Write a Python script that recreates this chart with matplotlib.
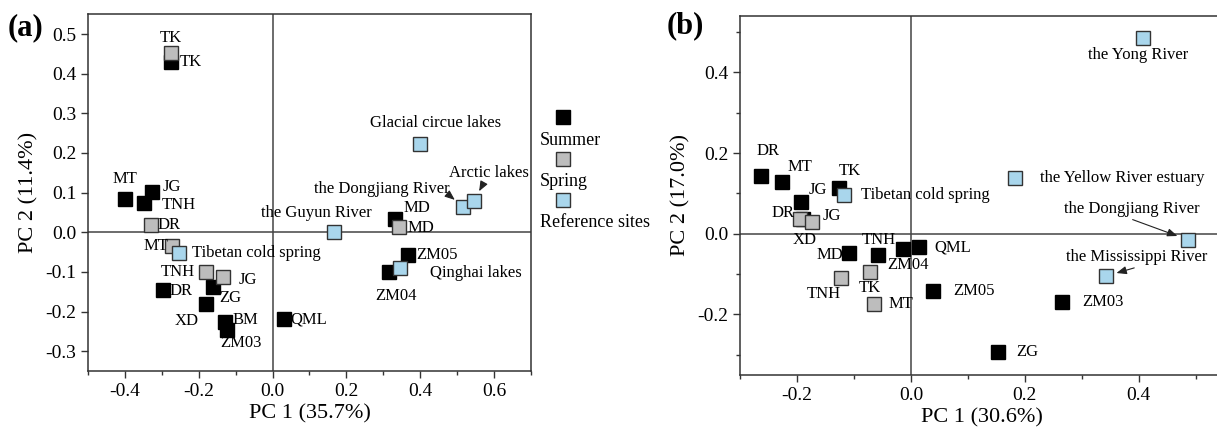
import numpy as np
import matplotlib
matplotlib.use("Agg")
import matplotlib.pyplot as plt
from matplotlib.ticker import MultipleLocator

plt.rcParams["font.family"] = ["Liberation Serif", "DejaVu Serif"]

# ---------------- panel (a) data ----------------
a_summer_sites = ["TK", "MT", "JG", "TNH", "DR", "ZG", "XD", "BM", "ZM03", "QML", "MD", "ZM05", "ZM04"]
a_summer_pc1 = [-0.274, -0.401, -0.326, -0.349, -0.297, -0.161, -0.180, -0.129, -0.124, 0.030, 0.332, 0.367, 0.316]
a_summer_pc2 = [0.430, 0.084, 0.101, 0.073, -0.145, -0.137, -0.181, -0.227, -0.246, -0.219, 0.033, -0.057, -0.101]

a_spring_sites = ["TK", "DR", "MT", "TNH", "JG", "MD"]
a_spring_pc1 = [-0.276, -0.330, -0.272, -0.179, -0.133, 0.343]
a_spring_pc2 = [0.451, 0.018, -0.034, -0.101, -0.112, 0.014]

a_ref_sites = ["Tibetan cold spring", "the Guyun River", "Glacial circue lakes",
               "the Dongjiang River", "Arctic lakes", "Qinghai lakes"]
a_ref_pc1 = [-0.254, 0.166, 0.399, 0.517, 0.545, 0.345]
a_ref_pc2 = [-0.053, 0.001, 0.222, 0.064, 0.079, -0.089]

# ---------------- panel (b) data ----------------
b_summer_sites = ["DR", "MT", "JG", "TK", "XD", "MD", "TNH", "ZM04", "QML", "ZM05", "ZM03", "ZG"]
b_summer_pc1 = [-0.263, -0.226, -0.192, -0.126, -0.189, -0.108, -0.057, -0.014, 0.014, 0.039, 0.265, 0.152]
b_summer_pc2 = [0.143, 0.128, 0.079, 0.113, 0.037, -0.048, -0.052, -0.037, -0.033, -0.141, -0.170, -0.292]

b_spring_sites = ["DR", "JG", "TK", "TNH", "MT"]
b_spring_pc1 = [-0.194, -0.174, -0.072, -0.122, -0.064]
b_spring_pc2 = [0.036, 0.029, -0.094, -0.110, -0.174]

b_ref_sites = ["Tibetan cold spring", "the Yong River", "the Yellow River estuary",
               "the Dongjiang River", "the Mississippi River"]
b_ref_pc1 = [-0.117, 0.408, 0.183, 0.486, 0.342]
b_ref_pc2 = [0.095, 0.485, 0.137, -0.015, -0.105]

# label placement (offset in pixels from the marker, ha)
a_labels = {
    ("summer", "TK"): (8, 0, "left"), ("summer", "MT"): (0, 20, "center"),
    ("summer", "JG"): (10, 5, "left"), ("summer", "TNH"): (18, -2, "left"),
    ("summer", "DR"): (7, -1, "left"), ("summer", "ZG"): (6, -11, "left"),
    ("summer", "XD"): (-7, -17, "right"), ("summer", "BM"): (8, 2, "left"),
    ("summer", "ZM03"): (14, -13, "center"), ("summer", "QML"): (7, 0, "left"),
    ("summer", "MD"): (8, 11, "left"), ("summer", "ZM05"): (8, 0, "left"),
    ("summer", "ZM04"): (7, -24, "center"),
    ("spring", "TK"): (0, 15, "center"), ("spring", "DR"): (7, 0, "left"),
    ("spring", "MT"): (-4, 0, "right"), ("spring", "TNH"): (-12, 0, "right"),
    ("spring", "JG"): (15, -3, "left"), ("spring", "MD"): (8, -1, "left"),
    ("ref", "Tibetan cold spring"): (13, 0, "left"), ("ref", "the Guyun River"): (-17, 19, "center"),
    ("ref", "Glacial circue lakes"): (16, 21, "center"), ("ref", "Qinghai lakes"): (30, -5, "left"),
}
a_arrows = {"the Dongjiang River": (-82, 18, (1.0, 0.1)), "Arctic lakes": (15, 28, (0.45, 0.0))}

b_labels = {
    ("summer", "DR"): (7, 25, "center"), ("summer", "MT"): (18, 15, "center"),
    ("summer", "JG"): (7, 12, "left"), ("summer", "TK"): (11, 17, "center"),
    ("summer", "XD"): (1, -21, "center"), ("summer", "MD"): (-6, -2, "right"),
    ("summer", "TNH"): (0, 15, "center"), ("summer", "ZM04"): (-16, -16, "left"),
    ("summer", "QML"): (16, 0, "left"), ("summer", "ZM05"): (20, 0, "left"),
    ("summer", "ZM03"): (20, 0, "left"), ("summer", "ZG"): (19, 0, "left"),
    ("spring", "DR"): (-6, 6, "right"), ("spring", "JG"): (11, 6, "left"),
    ("spring", "TK"): (0, -16, "center"), ("spring", "TNH"): (-18, -16, "center"),
    ("spring", "MT"): (14, 0, "left"),
    ("ref", "Tibetan cold spring"): (17, 0, "left"), ("ref", "the Yong River"): (-5, -17, "center"),
    ("ref", "the Yellow River estuary"): (25, 0, "left"),
}
b_arrows = {"the Dongjiang River": (-56, 31, (0.45, 0.0)), "the Mississippi River": (31, 19, (0.55, 0.0))}

FS = 12
groups = [("summer", "black", "black"), ("spring", "#bdbdbd", "#333333"), ("ref", "#a9d6ec", "#333333")]


def draw_panel(ax, data, labels, arrows):
    for g, face, edge in groups:
        names, xs, ys = data[g]
        ax.plot(xs, ys, "s", ms=9.5, mfc=face, mec=edge, mew=1.0, ls="none", zorder=3)
        for n, x, y in zip(names, xs, ys):
            if g == "ref" and n in arrows:
                dx, dy, rp = arrows[n]
                ax.annotate(n, (x, y), xytext=(dx, dy), textcoords="offset pixels",
                            ha="center", va="center", fontsize=FS, zorder=4,
                            arrowprops=dict(arrowstyle="-|>,head_length=0.5,head_width=0.2",
                                            color="#222222", lw=0.8, shrinkA=0, shrinkB=8,
                                            relpos=rp))
                continue
            dx, dy, ha = labels[(g, n)]
            ax.annotate(n, (x, y), xytext=(dx, dy), textcoords="offset pixels",
                        ha=ha, va="center", fontsize=FS, zorder=4)
    ax.axhline(0, color="#444444", lw=1.1, zorder=1)
    ax.axvline(0, color="#444444", lw=1.1, zorder=1)
    for s in ax.spines.values():
        s.set_color("#333333")
        s.set_linewidth(1.1)
    ax.tick_params(which="both", direction="out", colors="#333333", labelcolor="black",
                   labelsize=14, top=False, right=False)
    ax.tick_params(which="major", length=5, width=1.0)
    ax.tick_params(which="minor", length=3, width=1.0)


fig = plt.figure(figsize=(12.17, 4.30), dpi=100)

# panel (a)
ax1 = fig.add_axes([0.0723, 0.137, 0.364, 0.830])
draw_panel(ax1,
           {"summer": (a_summer_sites, a_summer_pc1, a_summer_pc2),
            "spring": (a_spring_sites, a_spring_pc1, a_spring_pc2),
            "ref": (a_ref_sites, a_ref_pc1, a_ref_pc2)},
           a_labels, a_arrows)
ax1.set_xlim(-0.5, 0.7)
ax1.set_ylim(-0.35, 0.55)
ax1.xaxis.set_minor_locator(MultipleLocator(0.1))
ax1.set_xticks([-0.4, -0.2, 0.0, 0.2, 0.4, 0.6])
ax1.set_xticklabels(["-0.4", "-0.2", "0.0", "0.2", "0.4", "0.6"])
ax1.set_yticks(np.round(np.arange(-0.3, 0.51, 0.1), 1))
ax1.set_yticklabels(["-0.3", "-0.2", "-0.1", "0.0", "0.1", "0.2", "0.3", "0.4", "0.5"])
ax1.set_xlabel("PC 1 (35.7%)", fontsize=16, labelpad=3)
ax1.set_ylabel("PC 2 (11.4%)", fontsize=16, labelpad=5)

# legend for (a): marker above its label, outside the axes
leg_items = [("Summer", "black", "black"), ("Spring", "#bdbdbd", "#333333"),
             ("Reference sites", "#a9d6ec", "#333333")]
for i, (lab, face, edge) in enumerate(leg_items):
    ym = 0.711 - i * 0.116
    ax1.plot([1.072], [ym], "s", ms=9.5, mfc=face, mec=edge, mew=1.0,
             transform=ax1.transAxes, clip_on=False)
    ax1.text(1.02, ym - 0.064, lab, transform=ax1.transAxes, ha="left", va="center",
             fontsize=13)

# panel (b)
ax2 = fig.add_axes([0.608, 0.128, 0.398, 0.835])
draw_panel(ax2,
           {"summer": (b_summer_sites, b_summer_pc1, b_summer_pc2),
            "spring": (b_spring_sites, b_spring_pc1, b_spring_pc2),
            "ref": (b_ref_sites, b_ref_pc1, b_ref_pc2)},
           b_labels, b_arrows)
ax2.set_xlim(-0.3, 0.55)
ax2.set_ylim(-0.35, 0.54)
ax2.set_xticks([-0.2, 0.0, 0.2, 0.4])
ax2.set_xticklabels(["-0.2", "0.0", "0.2", "0.4"])
ax2.xaxis.set_minor_locator(MultipleLocator(0.1))
ax2.set_yticks([-0.2, 0.0, 0.2, 0.4])
ax2.set_yticklabels(["-0.2", "0.0", "0.2", "0.4"])
ax2.yaxis.set_minor_locator(MultipleLocator(0.1))
ax2.set_xlabel("PC 1 (30.6%)", fontsize=16, labelpad=3)
ax2.set_ylabel("PC 2 (17.0%)", fontsize=16, labelpad=5)

fig.text(0.006, 0.935, "(a)", fontsize=22, fontweight="bold", ha="left", va="center")
fig.text(0.548, 0.94, "(b)", fontsize=22, fontweight="bold", ha="left", va="center")

fig.savefig("out.png", dpi=100)
